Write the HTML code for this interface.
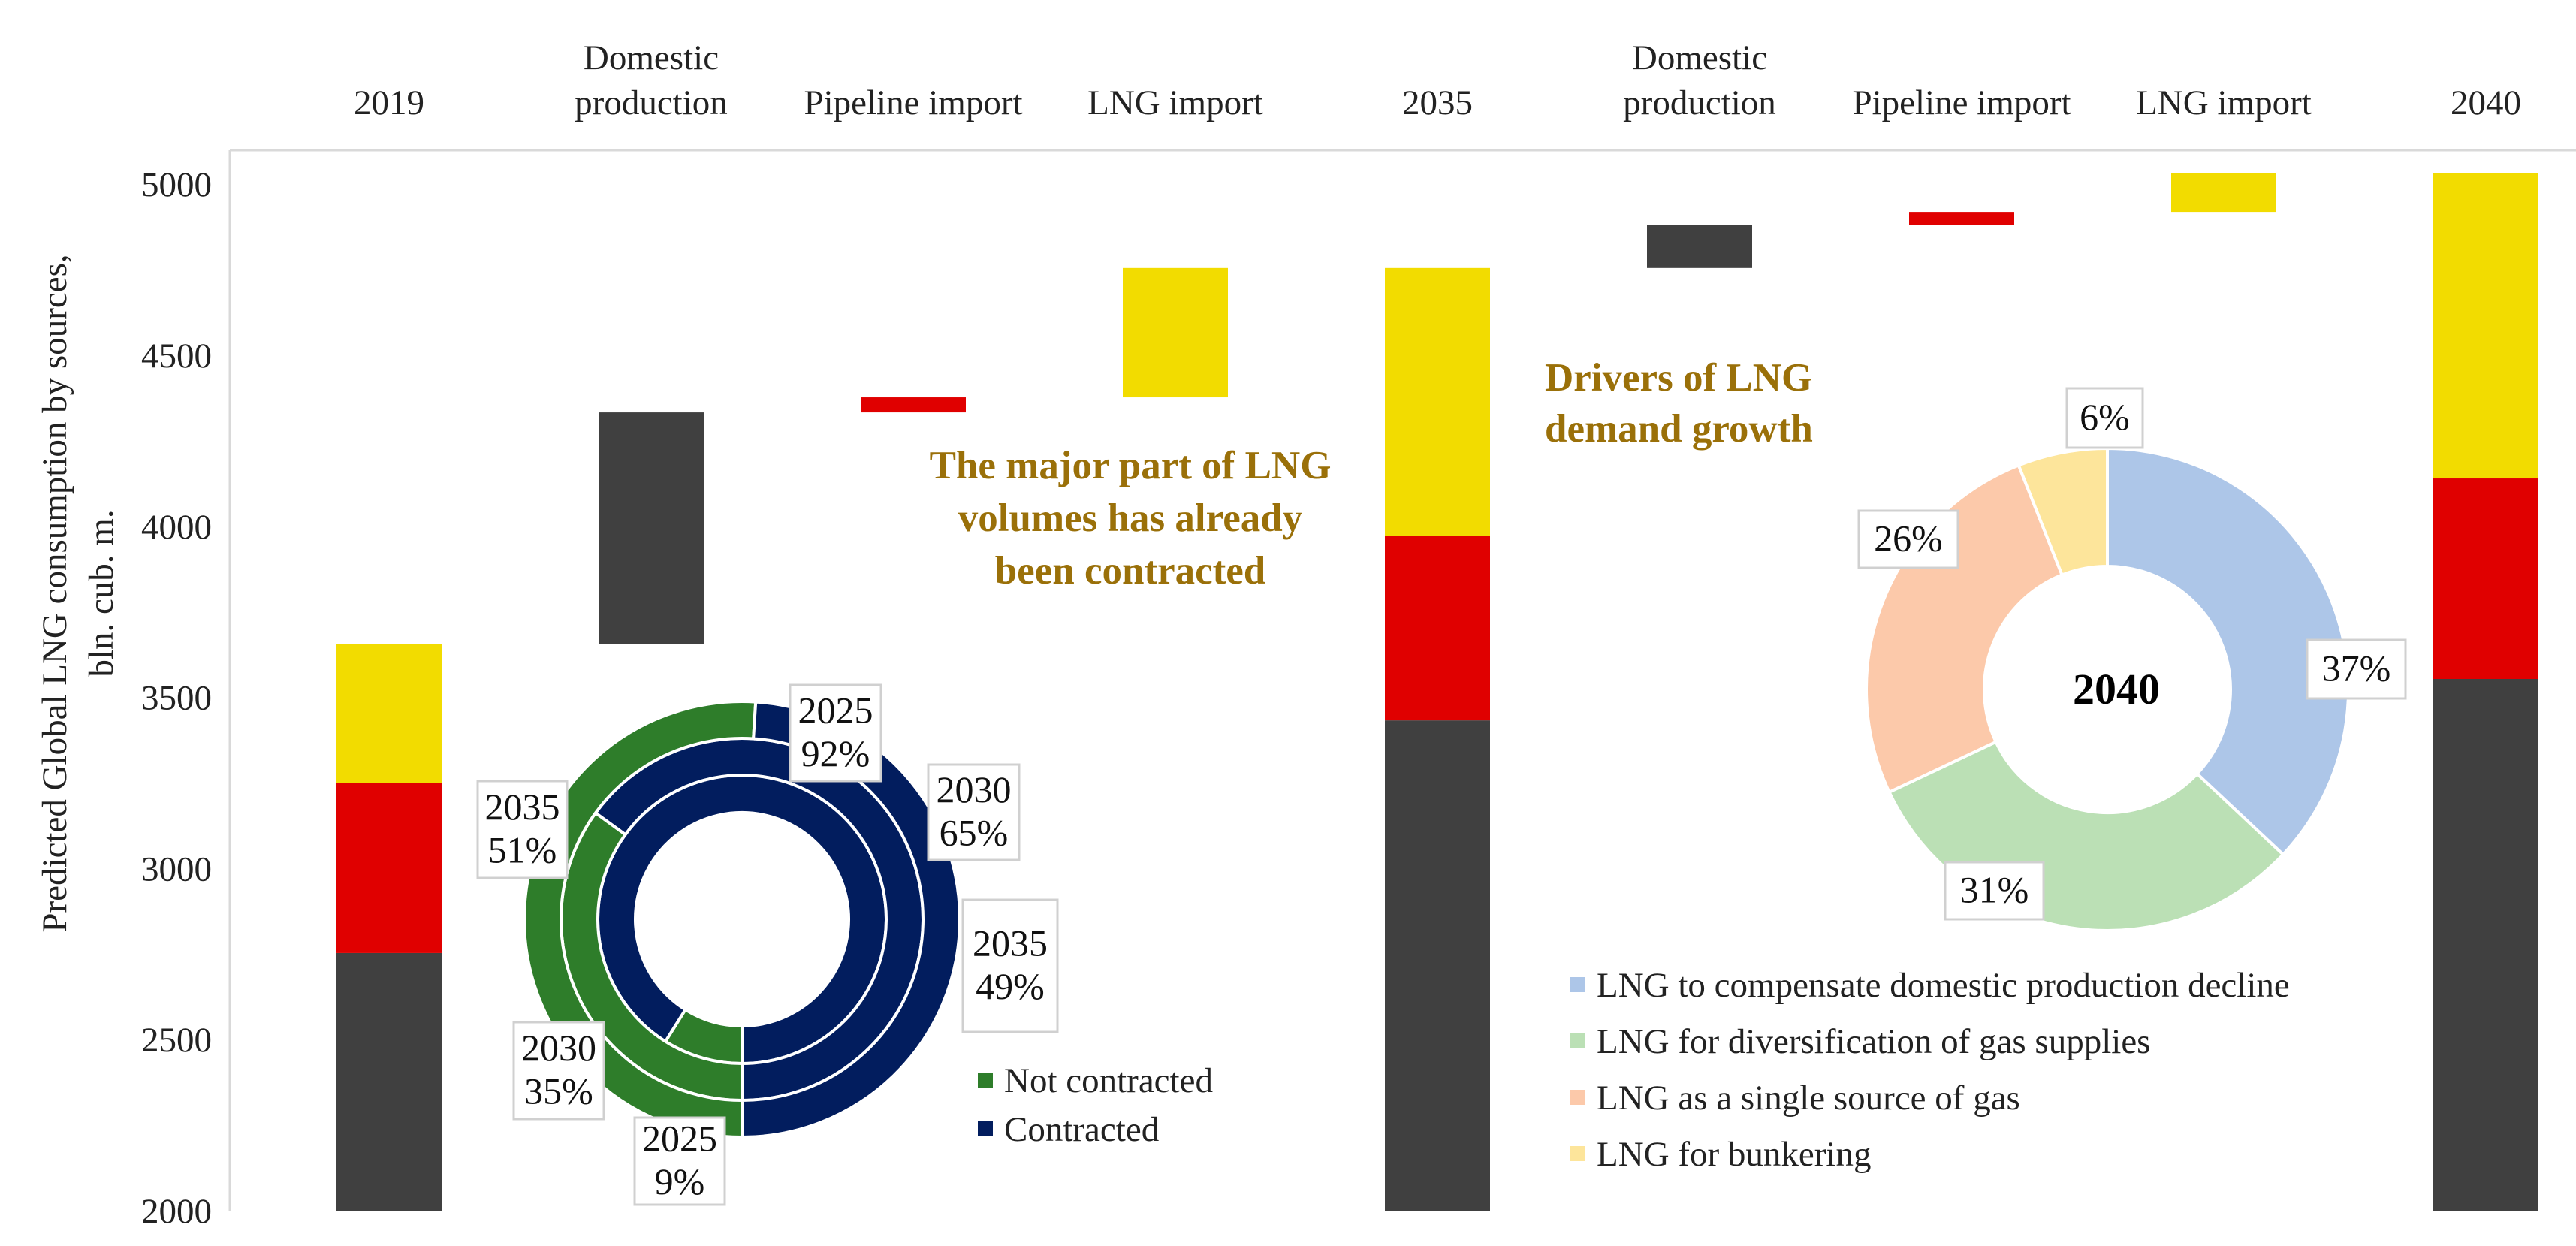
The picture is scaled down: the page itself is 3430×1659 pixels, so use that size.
<!DOCTYPE html>
<html><head><meta charset="utf-8"><style>
html,body{margin:0;padding:0;background:#fff;}
svg, svg text{font-family:"Liberation Serif","DejaVu Serif",serif;}
</style></head><body>
<svg id="chart" width="3430" height="1654" viewBox="0 0 3430 1654" xmlns="http://www.w3.org/2000/svg" font-family="Liberation Serif, DejaVu Serif, serif">
<g id="axes"></g>
<g id="bars"></g>
<g id="donut1"></g>
<g id="donut2"></g>
<g id="notes">
<text x="1505" y="637" text-anchor="middle" font-size="53" font-weight="bold" fill="#9a7009"><tspan x="1505">The major part of LNG</tspan><tspan x="1505" dy="70">volumes has already</tspan><tspan x="1505" dy="70">been contracted</tspan></text>
<text x="2057" y="520" font-size="53" font-weight="bold" fill="#9a7009"><tspan x="2057">Drivers of LNG</tspan><tspan x="2057" dy="68">demand growth</tspan></text>
</g>
</svg>
<script>
const categories = ["2019","Domestic|production","Pipeline import","LNG import","2035","Domestic|production","Pipeline import","LNG import","2040"];
const catTypes = ["total","delta","delta","delta","total","delta","delta","delta","total"];
const domesticVals = [753, 0, 0, 0, 1433, 0, 0, 0, 1554];
const pipelineVals = [498, 0, 0, 0, 540, 0, 0, 0, 586];
const lngVals = [406, 0, 0, 0, 782, 0, 0, 0, 893];
const deltaVals = [0, 676, 44, 378, 0, 125, 39, 114, 0];
const deltaSeries = ["", "dom", "pipe", "lng", "", "dom", "pipe", "lng", ""];
const yTicks = [2000,2500,3000,3500,4000,4500,5000];
const yBase = 2000;

const contractYears = ["2025","2030","2035"];
const notContracted = [9, 35, 51];
const contracted = [92, 65, 49];

const driverNames = ["LNG to compensate domestic production decline","LNG for diversification of gas supplies","LNG as a single source of gas","LNG for bunkering"];
const driverShares = [37, 31, 26, 6];

const NS="http://www.w3.org/2000/svg";
function mk(tag, attrs, parent){const e=document.createElementNS(NS,tag);for(const k in attrs)e.setAttribute(k,attrs[k]);if(tag==='text')e.setAttribute('font-family','Liberation Serif, DejaVu Serif, serif');parent.appendChild(e);return e;}
const colors={dom:"#404040",pipe:"#e00000",lng:"#f2dc00"};
const y=v=>1612-(v-yBase)*0.4556;
const x=i=>518+i*349;
const axes=document.getElementById('axes');
let l=mk('line',{x1:306,y1:200,x2:3430,y2:200,stroke:"#d9d9d9","stroke-width":3},axes);

l=mk('line',{x1:306,y1:200,x2:306,y2:1612,stroke:"#d9d9d9","stroke-width":3},axes);

yTicks.forEach(t=>{const e=mk('text',{x:282,y:y(t)+16,"text-anchor":"end","font-size":47,fill:"#222"},axes);e.textContent=t;

});
const yt=mk('text',{transform:"translate(88,790) rotate(-90)","text-anchor":"middle","font-size":47,fill:"#222"},axes);


const s1=mk('tspan',{x:0,y:0},yt);s1.textContent="Predicted Global LNG consumption by sources,";
const s2=mk('tspan',{x:0,y:62},yt);s2.textContent="bln. cub. m.";
categories.forEach((c,i)=>{const parts=c.split('|');
 const e=mk('text',{x:x(i),"text-anchor":"middle","font-size":47,fill:"#222"},axes);
 
 
 parts.forEach((p,j)=>{const t=mk('tspan',{x:x(i),y:152-(parts.length-1-j)*60},e);t.textContent=p;});});
const bars=document.getElementById('bars');
let running=0;
categories.forEach((c,i)=>{
 if(catTypes[i]==="total"){
  let b=yBase;
  [[domesticVals[i],'dom'],[pipelineVals[i],'pipe'],[lngVals[i],'lng']].forEach(([v,k])=>{
   const r=mk('rect',{x:x(i)-70,y:y(b+v),width:140,height:y(b)-y(b+v),fill:colors[k]},bars);
   
   
   b+=v;});
  running=b;
 } else {
  const v=deltaVals[i];
  const r=mk('rect',{x:x(i)-70,y:y(running+v),width:140,height:y(running)-y(running+v),fill:colors[deltaSeries[i]]},bars);
  
  
  running+=v;
 }
});
function arc(cx,cy,r0,r1,a0,a1){const p=(r,a)=>[cx+r*Math.sin(a),cy-r*Math.cos(a)];const la=(a1-a0)>Math.PI?1:0;
 const A=p(r1,a0),B=p(r1,a1),C=p(r0,a1),D=p(r0,a0);
 return `M${A}A${r1},${r1} 0 ${la} 1 ${B}L${C}A${r0},${r0} 0 ${la} 0 ${D}Z`;}
function callout(g,bx,by,bw,bh,lines,fs,name){
 const r=mk('rect',{x:bx,y:by,width:bw,height:bh,fill:"#fff",stroke:"#d0d0d0","stroke-width":3},g);
 
 
 const t=mk('text',{x:bx+bw/2,"text-anchor":"middle","font-size":fs,fill:"#111"},g);
 
 
 const lh=fs*1.15, top=by+(bh-lh*lines.length)/2;
 lines.forEach((s,j)=>{const ts=mk('tspan',{x:bx+bw/2,y:top+lh*j+fs*0.88},t);ts.textContent=s;});}
// Donut 1
const d1=document.getElementById('donut1');
const c1x=988,c1y=1224;const radii=[[142,192],[192,241],[241,290]];
contractYears.forEach((yr,i)=>{
 const tot=notContracted[i]+contracted[i];
 const a0=Math.PI, a1=Math.PI+notContracted[i]/tot*2*Math.PI, a2=Math.PI*3;
 const g=mk('path',{d:arc(c1x,c1y,radii[i][0],radii[i][1],a0,a1),fill:"#2e7d2a",stroke:"#fff","stroke-width":4},d1);
 
 
 const n=mk('path',{d:arc(c1x,c1y,radii[i][0],radii[i][1],a1,a2),fill:"#021d5e",stroke:"#fff","stroke-width":4},d1);
 
 
});
callout(d1,1052,912,121,128,[contractYears[0],contracted[0]+"%"],50,'label-contracted-2025');
callout(d1,1236,1018,121,127,[contractYears[1],contracted[1]+"%"],50,'label-contracted-2030');
callout(d1,1282,1198,126,176,[contractYears[2],contracted[2]+"%"],50,'label-contracted-2035');
callout(d1,636,1040,119,129,[contractYears[2],notContracted[2]+"%"],50,'label-not-contracted-2035');
callout(d1,684,1361,120,129,[contractYears[1],notContracted[1]+"%"],50,'label-not-contracted-2030');
callout(d1,845,1488,120,116,[contractYears[0],notContracted[0]+"%"],50,'label-not-contracted-2025');
[["Not contracted","#2e7d2a",1438],["Contracted","#021d5e",1503]].forEach(([s,c,yy])=>{
 const r=mk('rect',{x:1302,y:yy-10,width:20,height:20,fill:c},d1);
 
 
 const t=mk('text',{x:1337,y:yy+16,"font-size":47,fill:"#222"},d1);t.textContent=s;
 
 });
// Donut 2
const d2=document.getElementById('donut2');
const c2x=2806,c2y=918,dcols=["#adc6e8","#bbe0b5","#fcc9aa","#fde59b"];
let acc=0;const tot2=driverShares.reduce((a,b)=>a+b,0);
driverShares.forEach((v,i)=>{const a0=acc/tot2*2*Math.PI;acc+=v;const a1=acc/tot2*2*Math.PI;
 const p=mk('path',{d:arc(c2x,c2y,164,321,a0,a1),fill:dcols[i],stroke:"#fff","stroke-width":4},d2);
 
 });
callout(d2,3072,852,131,78,[driverShares[0]+"%"],50,'label-driver-1');
callout(d2,2590,1148,131,76,[driverShares[1]+"%"],50,'label-driver-2');
callout(d2,2475,680,132,76,[driverShares[2]+"%"],50,'label-driver-3');
callout(d2,2752,517,101,79,[driverShares[3]+"%"],50,'label-driver-4');
const ct=mk('text',{x:2818,y:937,"text-anchor":"middle","font-size":58,"font-weight":"bold",fill:"#000"},d2);ct.textContent="2040";


driverNames.forEach((s,i)=>{const yy=1311+i*75;
 const r=mk('rect',{x:2090,y:yy-10,width:20,height:20,fill:dcols[i]},d2);
 
 
 const t=mk('text',{x:2126,y:yy+16,"font-size":47,fill:"#222"},d2);t.textContent=s;
 
 });
</script>
</body></html>
